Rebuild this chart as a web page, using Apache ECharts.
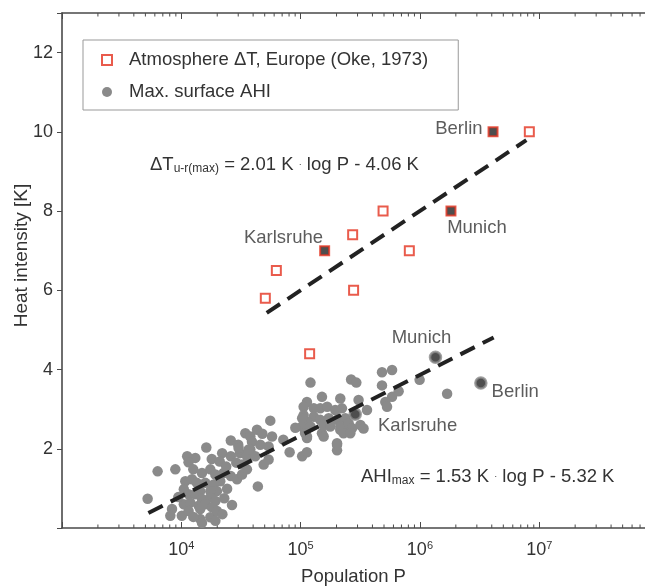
<!DOCTYPE html>
<html>
<head>
<meta charset="utf-8">
<script src="https://cdn.jsdelivr.net/npm/echarts@6/dist/echarts.min.js"></script>
<style>
html,body{margin:0;padding:0;background:#fff;overflow:hidden;}
#chart{width:645px;height:586px;}
</style>
</head>
<body>
<div id="chart"></div>
<script>
// ---- Data ----
// Atmosphere ΔT, Europe (Oke, 1973): population, heat intensity [K]
const okePop = [5.06e4, 6.26e4, 2.73e5, 2.78e5, 4.91e5, 8.15e5, 8.26e6, 1.19e5];
const okeVal = [5.8, 6.5, 7.4, 6.0, 8.0, 7.0, 10.0, 4.4];
// highlighted Oke cities
const okeCityNames = ['Karlsruhe', 'Munich', 'Berlin'];
const okeCityPop = [1.59e5, 1.82e6, 4.10e6];
const okeCityVal = [7.0, 8.0, 10.0];

// Max. surface AHI: population, heat intensity [K]
const ahiPop = [
  2.6e4, 3.0e4, 2.2e4, 2.6e4, 3.1e4, 3.55e4, 1.8e4, 2.1e4, 1.12e4, 1.31e4,
  1.15e4, 6330, 1.49e4, 1.75e4, 1.93e4, 2.26e4, 2.6e4, 2.93e4, 3.23e4, 3.55e4,
  1.08e4, 1.23e4, 1.35e4, 1.59e4, 1.87e4, 2.12e4, 2.42e4, 1.99e4, 1.75e4, 1.44e4,
  1.05e4, 1.15e4, 1.31e4, 1.49e4, 1.75e4, 1.93e4, 5220, 1.05e4, 1.19e4, 1.40e4,
  1.59e4, 1.81e4, 8360, 8090, 1.01e4, 1.15e4, 1.44e4, 1.44e4, 1.75e4, 1.93e4,
  1.99e4, 2.66e4, 1.49e4, 4.38e4, 3.23e4, 3.44e4, 3.79e4, 4.31e4, 4.78e4, 5.76e4,
  5.57e4, 3.91e4, 4.59e4, 5.39e4, 3.79e4, 4.17e4, 5.39e4, 4.90e4, 3.02e4, 3.67e4,
  8.09e4, 1.03e5, 1.13e5, 1.13e5, 1.09e5, 1.51e5, 1.56e5, 2.02e5, 2.02e5, 2.15e5,
  2.45e5, 1.21e5, 2.65e5, 2.93e5, 4.81e5, 5.84e5, 4.81e5, 6.63e5, 5.84e5, 5.13e5,
  5.30e5, 1.51e5, 2.15e5, 3.06e5, 1.13e5, 1.06e5, 1.29e5, 1.46e5, 1.67e5, 1.95e5,
  2.22e5, 3.60e5, 1.06e5, 1.29e5, 1.46e5, 1.72e5, 2.02e5, 2.37e5, 1.13e5, 1.03e5,
  1.21e5, 1.56e5, 1.77e5, 2.15e5, 2.53e5, 2.70e5, 3.17e5, 1.09e5, 2.29e5, 2.61e5,
  1.13e5, 2.02e5, 9.94e5, 1.69e6, 3.37e5, 1.03e5,
  8910, 1.26e4, 9440, 1.26e4, 2.29e4, 2.38e4, 1.62e4, 2.89e4, 2.21e4, 7.16e4,
  9.03e4
];
const ahiVal = [
  2.21, 2.10, 1.89, 1.81, 1.89, 1.81, 1.74, 1.68, 1.81, 1.77,
  1.66, 1.43, 1.39, 1.48, 1.35, 1.39, 1.31, 1.23, 1.35, 1.48,
  1.18, 1.23, 1.14, 1.14, 1.10, 1.18, 0.99, 0.93, 0.93, 0.93,
  0.98, 0.85, 0.85, 0.73, 0.77, 0.68, 0.74, 0.60, 0.64, 0.56,
  0.60, 0.52, 0.48, 0.31, 0.31, 0.43, 0.48, 0.23, 0.27, 0.18,
  0.43, 0.58, 0.13, 1.05, 1.60, 2.39, 2.31, 2.48, 2.38, 2.31,
  2.71, 2.18, 2.10, 2.06, 1.98, 1.81, 1.73, 1.60, 2.02, 1.98,
  1.91, 1.81, 1.91, 2.31, 2.43, 2.39, 2.31, 2.10, 1.96, 2.48,
  2.48, 3.67, 3.75, 3.67, 3.93, 3.99, 3.60, 3.45, 3.31, 3.18,
  3.06, 3.31, 3.27, 3.23, 3.18, 3.06, 3.02, 3.02, 3.06, 2.98,
  3.02, 2.98, 2.85, 2.81, 2.73, 2.77, 2.73, 2.77, 2.68, 2.56,
  2.56, 2.60, 2.56, 2.56, 2.64, 2.52, 2.60, 2.39, 2.39, 2.39,
  2.27, 2.14, 3.74, 3.39, 2.51, 2.77,
  1.48, 1.48, 0.78, 0.28, 0.75, 1.55, 2.03, 1.65, 0.35, 2.23,
  2.53
];
// highlighted AHI cities
const ahiCityNames = ['Munich', 'Berlin', 'Karlsruhe'];
const ahiCityPop = [1.35e6, 3.24e6, 2.87e5];
const ahiCityVal = [4.31, 3.66, 2.87];

// regression line end points
const fitOkePop = [5.2e4, 7.8e6];
const fitOkeVal = [5.43, 9.79];
const fitAhiPop = [5.3e3, 4.15e6];
const fitAhiVal = [0.38, 4.81];

// axis ranges / ticks
const yTicks = [2, 4, 6, 8, 10, 12];
const xTickExps = [4, 5, 6, 7];
const xMin = 1e3, xMax = 7.7e7;   // right end is cut by the figure edge
const yMin = 0, yMax = 13;

const seriesNames = ['Atmosphere \u0394T, Europe (Oke, 1973)', 'Max. surface AHI'];

// ---- styling ----
const RED = '#e3321f';
const GREY = '#8a8a8a';
const TXT = '#333';
const AX = '#4a4a4a';
const FS = 18.5;
const FONT = '"Liberation Sans", Arial, sans-serif';

const okeLabelStyle = {
  Karlsruhe: {position: 'left', distance: 0, offset: [4, -13]},
  Munich: {position: 'bottom', distance: 2, offset: [26, 0]},
  Berlin: {position: 'left', distance: 5, offset: [0, -3]}
};
const ahiLabelStyle = {
  Munich: {position: 'top', distance: 3, offset: [-14, 0]},
  Berlin: {position: 'right', distance: 4, offset: [0, 9]},
  Karlsruhe: {position: 'right', distance: 16, offset: [0, 12]}
};

const zip = (a, b) => a.map((v, i) => [v, b[i]]);

// minor tick positions of the log axis (2..9 x 10^k)
const minorTicks = [];
for (let e = 3; e < 8; e++) for (let m = 2; m <= 9; m++) {
  const v = m * Math.pow(10, e);
  if (v < xMax) minorTicks.push([v, 0]);
}

const chart = echarts.init(document.getElementById('chart'), null, {renderer: 'canvas'});

const xAxisCommon = {
  type: 'log', logBase: 10, min: xMin, max: xMax,
  splitLine: {show: false},
  axisLine: {show: true, lineStyle: {color: AX, width: 1.6}},
  axisTick: {show: true, inside: true, length: 6, lineStyle: {color: AX, width: 1}},
};

const option = {
  animation: false,
  backgroundColor: '#fff',
  textStyle: {fontFamily: FONT, color: TXT},
  grid: {left: 62, right: 0, top: 13, bottom: 58, containLabel: false, outerBoundsMode: 'none'},
  legend: {
    orient: 'vertical', left: 83, top: 40,
    padding: [10, 30, 8, 18],
    itemGap: 12, itemWidth: 10, itemHeight: 10,
    backgroundColor: '#fff', borderColor: '#999', borderWidth: 1,
    textStyle: {fontSize: FS, color: TXT, lineHeight: 20, padding: [0, 0, 0, 12]},
    data: [
      {name: seriesNames[0], icon: 'rect', itemStyle: {color: '#fff', borderColor: RED, borderWidth: 2}},
      {name: seriesNames[1], icon: 'circle', itemStyle: {color: GREY}}
    ]
  },
  xAxis: [
    Object.assign({}, xAxisCommon, {
      position: 'bottom',
      name: 'Population P', nameLocation: 'middle', nameGap: 39, nameMoveOverlap: false,
      nameTextStyle: {fontSize: FS, color: TXT},
      axisLabel: {
        margin: 12, showMinLabel: false, showMaxLabel: false,
        formatter: v => {
          const e = Math.round(Math.log10(v));
          return (xTickExps.indexOf(e) >= 0 && Math.abs(Math.log10(v) - e) < 1e-6) ? '{b|10}{s|' + e + '}' : '';
        },
        rich: {b: {fontSize: 18, color: TXT}, s: {fontSize: 11, color: TXT, padding: [0, 0, 10, 0]}}
      }
    }),
    Object.assign({}, xAxisCommon, {position: 'top', axisLabel: {show: false}})
  ],
  yAxis: {
    type: 'value', min: yMin, max: yMax, interval: 2,
    splitLine: {show: false},
    axisLine: {show: true, lineStyle: {color: AX, width: 1.6}},
    axisTick: {show: true, inside: false, length: 5, lineStyle: {color: AX, width: 1}},
    axisLabel: {fontSize: 18, color: TXT, margin: 9, formatter: v => (yTicks.indexOf(v) >= 0 ? String(v) : '')},
    name: 'Heat intensity [K]', nameLocation: 'middle', nameGap: 31, nameMoveOverlap: false,
    nameTextStyle: {fontSize: 19, color: TXT, padding: [0, 0, 0, 30]}
  },
  series: [
    {
      name: seriesNames[1], type: 'scatter', symbol: 'circle', symbolSize: 10.5,
      itemStyle: {color: GREY, opacity: 1},
      data: zip(ahiPop, ahiVal), z: 2
    },
    {
      name: seriesNames[1] + ' (cities)', type: 'scatter', symbol: 'circle', symbolSize: 11,
      itemStyle: {color: '#222', borderColor: GREY, borderWidth: 2.5},
      data: ahiCityNames.map((n, i) => ({
        name: n, value: [ahiCityPop[i], ahiCityVal[i]],
        label: Object.assign({show: true, formatter: '{b}', fontSize: FS, color: TXT}, ahiLabelStyle[n])
      })), z: 3
    },
    {
      name: seriesNames[0], type: 'scatter', symbol: 'rect', symbolSize: 9,
      itemStyle: {color: '#fff', borderColor: RED, borderWidth: 2},
      data: zip(okePop, okeVal), z: 3
    },
    {
      name: seriesNames[0] + ' (cities)', type: 'scatter', symbol: 'rect', symbolSize: 9,
      itemStyle: {color: '#222', borderColor: RED, borderWidth: 2},
      data: okeCityNames.map((n, i) => ({
        name: n, value: [okeCityPop[i], okeCityVal[i]],
        label: Object.assign({show: true, formatter: '{b}', fontSize: FS, color: TXT}, okeLabelStyle[n])
      })), z: 3
    },
    {
      name: 'fitOke', type: 'line', symbol: 'none', silent: true,
      lineStyle: {color: '#222', width: 4, type: [16, 9], cap: 'butt'},
      data: zip(fitOkePop, fitOkeVal), z: 4
    },
    {
      name: 'fitAhi', type: 'line', symbol: 'none', silent: true,
      lineStyle: {color: '#222', width: 4, type: [16, 9], cap: 'butt'},
      data: zip(fitAhiPop, fitAhiVal), z: 4
    },
    {
      name: 'minorTicks', type: 'custom', silent: true, clip: false,
      data: minorTicks,
      renderItem: (params, api) => {
        const v = api.value(0);
        const b = api.coord([v, yMin]);
        const t = api.coord([v, yMax]);
        const st = {stroke: AX, lineWidth: 1};
        return {type: 'group', children: [
          {type: 'line', shape: {x1: b[0], y1: b[1], x2: b[0], y2: b[1] - 3.5}, style: st},
          {type: 'line', shape: {x1: t[0], y1: t[1], x2: t[0], y2: t[1] + 3.5}, style: st}
        ]};
      }
    }
  ],
  graphic: [
    {
      type: 'text', left: 150, top: 155,
      style: {
        text: '\u0394T{sub|u-r(max)} = 2.01 K {dot|\u00b7} log P - 4.06 K',
        font: FS + 'px ' + FONT, fill: TXT,
        rich: {
          sub: {fontSize: 12, fill: TXT, padding: [9, 0, 0, 0]},
          dot: {fontSize: 9, fill: TXT}
        }
      }
    },
    {
      type: 'text', left: 361, top: 467,
      style: {
        text: 'AHI{sub|max} = 1.53 K {dot|\u00b7} log P - 5.32 K',
        font: FS + 'px ' + FONT, fill: TXT,
        rich: {
          sub: {fontSize: 12, fill: TXT, padding: [9, 0, 0, 0]},
          dot: {fontSize: 9, fill: TXT}
        }
      }
    }
  ]
};
chart.setOption(option);
</script>
</body>
</html>
